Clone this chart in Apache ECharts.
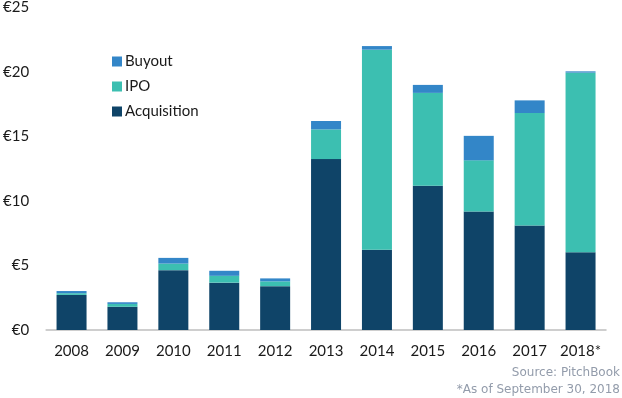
<!DOCTYPE html>
<html>
<head>
<meta charset="utf-8">
<script src="https://cdn.jsdelivr.net/npm/echarts@6/dist/echarts.min.js"></script>
<style>
  html, body { margin: 0; padding: 0; background: #fff; }
  #chart { width: 622px; height: 398px; }
</style>
</head>
<body>
<div id="chart"></div>
<script>
var years = ['2008', '2009', '2010', '2011', '2012', '2013', '2014', '2015', '2016', '2017', '2018*']
var acquisition = [2.72, 1.8, 4.64, 3.67, 3.4, 13.25, 6.23, 11.18, 9.18, 8.1, 6.02]
var ipo = [0.13, 0.22, 0.51, 0.53, 0.37, 2.3, 15.5, 7.2, 3.97, 8.72, 13.93]
var buyout = [0.17, 0.13, 0.44, 0.39, 0.23, 0.65, 0.28, 0.62, 1.9, 0.98, 0.1]
var yTicks = [0, 5, 10, 15, 20, 25]

var font = 'Lato, "Noto Sans", sans-serif'
var noteFont = '"DejaVu Sans", sans-serif'

var myChart = echarts.init(document.getElementById('chart'))
var barStyle = function (color) {
  return { color: color }
}
myChart.setOption({
  animation: false,
  grid: { left: 44, right: 16, top: 5, bottom: 68 },
  legend: {
    orient: 'vertical',
    left: 107,
    top: 49,
    itemWidth: 10,
    itemHeight: 10,
    itemGap: 10,
    icon: 'rect',
    data: ['Buyout', 'IPO', 'Acquisition'],
    textStyle: { fontFamily: font, fontSize: 15, color: '#1a1a1a', padding: [0, 0, 0, -2] }
  },
  xAxis: {
    type: 'category',
    data: years,
    axisTick: { show: false },
    axisLine: { lineStyle: { color: '#bfbfbf', width: 1.5 } },
    axisLabel: { interval: 0, fontFamily: font, fontSize: 15, color: '#1a1a1a', margin: 14 }
  },
  yAxis: {
    type: 'value',
    min: yTicks[0],
    max: yTicks[yTicks.length - 1],
    interval: 5,
    splitLine: { show: false },
    axisLine: { show: false },
    axisTick: { show: false },
    axisLabel: {
      fontFamily: font, fontSize: 15, color: '#1a1a1a', margin: 17,
      formatter: function (v) { return '€' + v }
    }
  },
  series: [
    { name: 'Acquisition', type: 'bar', stack: 'total', barWidth: 30, data: acquisition, itemStyle: barStyle('#0f4468') },
    { name: 'IPO', type: 'bar', stack: 'total', barWidth: 30, data: ipo, itemStyle: barStyle('#3cbfb1') },
    { name: 'Buyout', type: 'bar', stack: 'total', barWidth: 30, data: buyout, itemStyle: barStyle('#3386c8') }
  ],
  graphic: [
    {
      type: 'text', right: 2, top: 367,
      style: { text: 'Source: PitchBook', fill: '#939cab', font: '12px ' + noteFont, textAlign: 'right' }
    },
    {
      type: 'text', right: 2, top: 384,
      style: { text: '*As of September 30, 2018', fill: '#939cab', font: '12px ' + noteFont, textAlign: 'right' }
    }
  ]
})
</script>
</body>
</html>
